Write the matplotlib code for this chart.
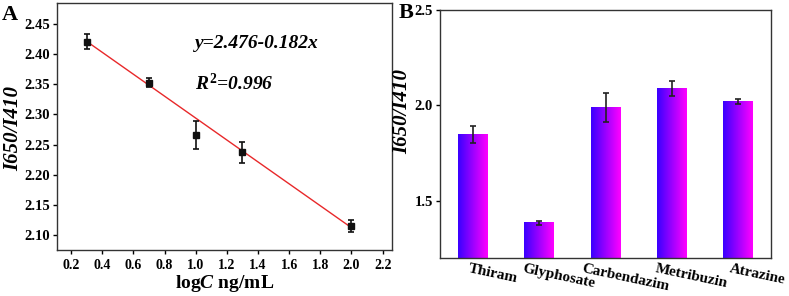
import numpy as np
import matplotlib.pyplot as plt
from matplotlib.colors import LinearSegmentedColormap

plt.rcParams['font.family'] = 'Liberation Serif'
plt.rcParams['font.weight'] = 'bold'
plt.rcParams['axes.labelweight'] = 'bold'
plt.rcParams['mathtext.fontset'] = 'custom'
plt.rcParams['mathtext.rm'] = 'Liberation Serif:bold'
plt.rcParams['mathtext.it'] = 'Liberation Serif:italic:bold'
plt.rcParams['mathtext.bf'] = 'Liberation Serif:bold'

# panel A data
logc = [0.3, 0.7, 1.0, 1.3, 2.0]
ratio = [2.421, 2.353, 2.266, 2.237, 2.115]
ratio_err = [0.013, 0.008, 0.023, 0.018, 0.010]
fit_a, fit_b = 2.476, -0.182

# panel B data
pesticides = ['Thiram', 'Glyphosate', 'Carbendazim', 'Metribuzin', 'Atrazine']
sel = [1.848, 1.385, 1.990, 2.089, 2.020]
sel_err = [0.045, 0.010, 0.077, 0.040, 0.015]

fig = plt.figure(figsize=(7.89, 2.96), dpi=100)
axA = fig.add_axes([57/789, 1-250/296, 335/789, 247/296])
axB = fig.add_axes([440/789, 1-258/296, 331/789, 248/296])

# A
xx = np.array([logc[0], logc[-1]])
axA.plot(xx, fit_a + fit_b*xx, color='#e8282a', lw=1.0, zorder=2)
axA.errorbar(logc, ratio, yerr=ratio_err, fmt='s', ms=4, color='#111111',
             ecolor='#111111', elinewidth=1.2, capsize=2.5, capthick=1.2, zorder=3)
axA.set_xlim(0.11, 2.26)
axA.set_ylim(2.075, 2.485)
axA.set_xticks(np.arange(0.2, 2.21, 0.2))
axA.set_yticks(np.arange(2.10, 2.451, 0.05))
axA.set_xticklabels([f'{v:.1f}' for v in np.arange(0.2, 2.21, 0.2)])
axA.set_yticklabels([f'{v:.2f}' for v in np.arange(2.10, 2.451, 0.05)])
axA.set_xlabel(r'log$\mathit{C}$ ng/mL', fontsize=14, labelpad=1)
axA.set_ylabel('I650/I410', fontsize=15, style='italic')
axA.yaxis.set_label_coords(-0.10, 0.49)
axA.text(0.412, 0.818, 'y=2.476-0.182x', transform=axA.transAxes, fontsize=14,
         style='italic')
axA.text(0.412, 0.648, r'$R^{\mathrm{2}}$=0.996', transform=axA.transAxes, fontsize=14,
         style='italic')
fig.text(2/789, 1-20/296, 'A', fontsize=16, fontweight='bold')

# B
cmap = LinearSegmentedColormap.from_list('bm', ['#3a00ff', '#ff00ff'])
grad = np.linspace(0, 1, 64).reshape(1, -1)
pos = np.arange(len(pesticides))
w = 0.45
bars = axB.bar(pos, sel, width=w, color='none', edgecolor='none')
for b in bars:
    x0 = b.get_x()
    axB.imshow(grad, cmap=cmap, aspect='auto', extent=[x0, x0 + w, 1.2, b.get_height()],
               zorder=1)
axB.errorbar(pos, sel, yerr=sel_err, fmt='none', ecolor='#222222', elinewidth=1.2,
             capsize=2.5, capthick=1.2, zorder=3)
axB.set_xlim(-0.5, 4.5)
axB.set_ylim(1.2, 2.5)
axB.set_yticks([1.5, 2.0, 2.5])
axB.set_yticklabels(['1.5', '2.0', '2.5'])
# labels sit a bit right of the bars, ticks themselves are hidden
axB.set_xticks(pos + 0.3)
axB.set_xticklabels(pesticides, rotation=-12, ha='center', va='top', fontsize=11)
axB.tick_params(axis='x', length=0, pad=3)
axB.set_ylabel('I650/I410', fontsize=15, style='italic')
axB.yaxis.set_label_coords(-0.085, 0.59)
fig.text(399/789, 1-18/296, 'B', fontsize=16, fontweight='bold')

for ax in (axA, axB):
    ax.tick_params(axis='y', labelsize=10.5, direction='out', length=3, width=1, pad=2)
    for s in ax.spines.values():
        s.set_linewidth(1.0)
        s.set_color('#333333')
axA.tick_params(axis='x', labelsize=10, direction='out', length=3, width=1)

fig.savefig('out.png', dpi=100)
